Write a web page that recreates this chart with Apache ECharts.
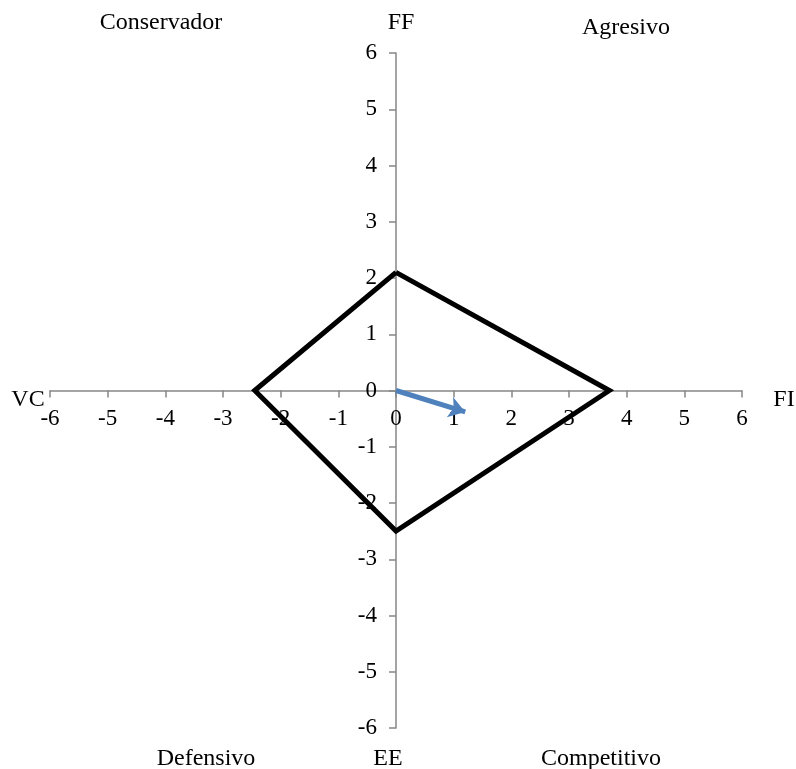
<!DOCTYPE html>
<html>
<head>
<meta charset="utf-8">
<script src="https://cdn.jsdelivr.net/npm/echarts@6/dist/echarts.min.js"></script>
<style>
html,body{margin:0;padding:0;background:#fff;}
#chart{width:796px;height:769px;}
</style>
</head>
<body>
<div id="chart"></div>
<script>
// Polygon vertices (FF, FI, EE, VC, back to FF)
var polyX = [0, 3.7, 0, -2.45, 0];
var polyY = [2.1, 0, -2.5, 0, 2.1];
// Resulting vector
var arrowX = [0, 1.2];
var arrowY = [0, -0.38];
// Axis range
var axisMin = -6, axisMax = 6, axisStep = 1;
// Labels
var axisNames = { top: 'FF', bottom: 'EE', left: 'VC', right: 'FI' };
var quadrantNames = ['Conservador', 'Agresivo', 'Defensivo', 'Competitivo'];

var FONT = '"Liberation Serif", "Times New Roman", serif';
var AXIS_COLOR = '#868686';
var W = 796, H = 769;
var G = { left: 50, right: 54, top: 53, bottom: 41 };
var gridW = W - G.left - G.right, gridH = H - G.top - G.bottom;
// put axes through the origin (value 0 is in the middle of the range)
var zeroFracX = (0 - axisMin) / (axisMax - axisMin);
var zeroFracY = (0 - axisMin) / (axisMax - axisMin);

var polyData = polyX.map(function (x, i) { return [x, polyY[i]]; });

var chart = echarts.init(document.getElementById('chart'));
var labelStyle = { fontFamily: FONT, fontSize: 24, fill: '#000' };
function txt(text, x, y) {
  return { type: 'text', x: x, y: y, silent: true,
    style: Object.assign({ text: text, align: 'center', verticalAlign: 'middle' }, labelStyle) };
}

chart.setOption({
  animation: false,
  backgroundColor: '#fff',
  grid: { left: G.left, right: G.right, top: G.top, bottom: G.bottom, containLabel: false },
  xAxis: {
    type: 'value', min: axisMin, max: axisMax, interval: axisStep,
    position: 'bottom',
    offset: -gridH * zeroFracY,
    axisLine: { onZero: false, lineStyle: { color: AXIS_COLOR, width: 1.5 } },
    axisTick: { show: true, inside: false, length: 7, lineStyle: { color: AXIS_COLOR, width: 1.5 } },
    axisLabel: { color: '#000', fontFamily: FONT, fontSize: 23, margin: 17 },
    splitLine: { show: false }
  },
  yAxis: {
    type: 'value', min: axisMin, max: axisMax, interval: axisStep,
    position: 'left',
    offset: -gridW * zeroFracX,
    axisLine: { onZero: false, lineStyle: { color: AXIS_COLOR, width: 1.5 } },
    axisTick: { show: true, inside: false, length: 7, lineStyle: { color: AXIS_COLOR, width: 1.5 } },
    axisLabel: { color: '#000', fontFamily: FONT, fontSize: 23, margin: 19 },
    splitLine: { show: false }
  },
  series: [
    {
      type: 'line',
      data: polyData,
      symbol: 'none',
      silent: true,
      lineStyle: { color: '#000', width: 5, join: 'miter' },
      z: 3
    },
    {
      type: 'line',
      data: [],
      symbol: 'none',
      silent: true,
      markLine: {
        silent: true,
        symbol: ['none', 'arrow'],
        symbolSize: [16, 16],
        label: { show: false },
        lineStyle: { color: '#4F81BD', width: 5, type: 'solid' },
        emphasis: { disabled: true },
        data: [[{ coord: [arrowX[0], arrowY[0]] }, { coord: [arrowX[1], arrowY[1]] }]]
      },
      z: 4
    }
  ],
  graphic: [
    txt(quadrantNames[0], 161, 23),
    txt(axisNames.top, 401, 23),
    txt(quadrantNames[1], 626, 28),
    txt(axisNames.left, 28, 400),
    txt(axisNames.right, 784, 400),
    txt(quadrantNames[2], 206, 759),
    txt(axisNames.bottom, 388, 759),
    txt(quadrantNames[3], 601, 759)
  ]
});
</script>
</body>
</html>
